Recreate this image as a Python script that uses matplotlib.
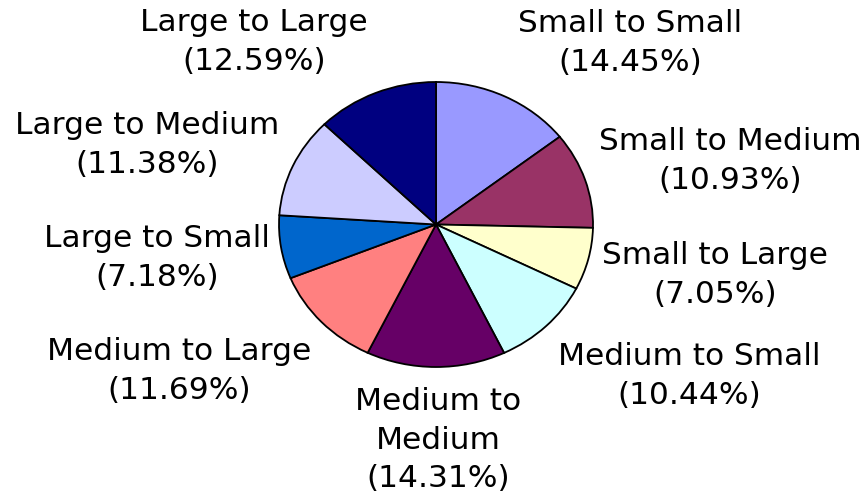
import matplotlib.pyplot as plt

categories = ["Small to Small", "Small to Medium", "Small to Large",
              "Medium to Small", "Medium to\nMedium", "Medium to Large",
              "Large to Small", "Large to Medium", "Large to Large"]
shares = [14.45, 10.93, 7.05, 10.44, 14.31, 11.69, 7.18, 11.38, 12.59]
colors = ["#9999FF", "#993366", "#FFFFCC", "#CCFFFF", "#660066",
          "#FF8080", "#0066CC", "#CCCCFF", "#000080"]

# label block centres in pixels (from top-left), Excel-style placement
label_pos = [(630, 43), (730, 161), (715, 275), (689, 376), (438, 440),
             (179, 371), (157, 258), (147, 145), (254, 42)]

W, H = 866, 498
fig = plt.figure(figsize=(W / 100, H / 100), dpi=100)

# elliptical pie: centre (436, 224), radii 157 x 142 px
cx, cy, rx, ry = 436, 224.5, 157, 142.5
ax = fig.add_axes([(cx - rx) / W, (H - cy - ry) / H, 2 * rx / W, 2 * ry / H])
ax.pie(shares, colors=colors, startangle=90, counterclock=False,
       wedgeprops=dict(edgecolor="black", linewidth=1.3))
ax.set_aspect("auto")
ax.set_xlim(-1, 1)
ax.set_ylim(-1, 1)
ax.axis("off")

for name, val, (px, py) in zip(categories, shares, label_pos):
    fig.text(px / W, 1 - py / H, f"{name}\n({val:.2f}%)",
             ha="center", va="center", fontsize=22.5,
             family="DejaVu Sans", linespacing=1.4)

fig.savefig("out.png", dpi=100)
